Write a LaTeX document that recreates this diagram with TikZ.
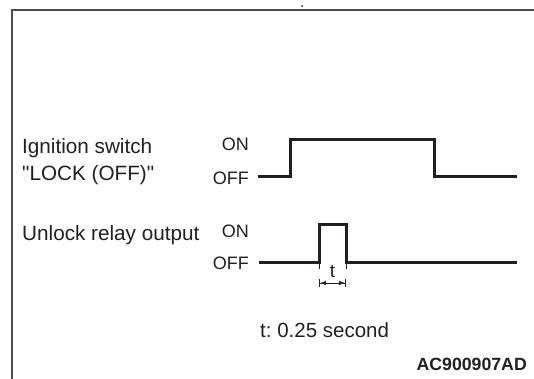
\documentclass[tikz,border=0pt]{standalone}
\usepackage{fontspec}
\setmainfont{Liberation Sans}[Ligatures=TeXOff]
\usetikzlibrary{arrows.meta}
\definecolor{ink}{HTML}{231F20}
\definecolor{rim}{HTML}{4D4D4D}
\frenchspacing

\begin{document}
\begin{tikzpicture}[
  x=1pt, y=-1pt, ink,
  sig/.style={anchor=base west, inner sep=0pt,
              font=\fontsize{20.7}{24}\selectfont},
  lvl/.style={anchor=base east, inner sep=0pt,
              font=\fontsize{18}{21}\selectfont},
  wave/.style={draw=ink, line width=3pt, line join=miter},
  ext/.style={draw=ink, line width=0.7pt},
  dimen/.style={{Bar[width=8pt]Latex[length=6pt,width=4.5pt]}-{Latex[length=6pt,width=4.5pt]Bar[width=8pt]},
                draw=ink, line width=0.9pt},
]
\useasboundingbox (0,0) rectangle (534,379);

% ---- frame -------------------------------------------------------------------
\draw[rim, line width=1.5pt] (12,379) -- (12,10) -- (534,10);
\fill (302,6) circle (1);

% ---- signal names ------------------------------------------------------------
\node[sig] (ign) at (22,154) {Ignition switch};
\node[sig] (lock) at (22,181) {"LOCK (OFF)"};
\node[sig] (relay) at (22,240) {Unlock relay output};

% ---- levels ------------------------------------------------------------------
\node[lvl] (on1) at (249,151) {ON};
\node[lvl] (off1) at (249,185) {OFF};
\node[lvl] (on2) at (249,237) {ON};
\node[lvl] (off2) at (249,269) {OFF};

% ---- ignition switch ---------------------------------------------------------
\draw[wave] (258,177) -- (290,177) -- (290,140) -- (434,140)
  -- (434,177) -- (517,177);

% ---- unlock relay pulse ------------------------------------------------------
\coordinate (up) at (319,262);
\coordinate (dn) at (346,262);
\draw[wave] (259,262) -- (up) -- (319,224) -- (346,224) -- (dn) -- (517,262);
\draw[ext] (up) -- ++(0,7);
\draw[ext] (dn) -- ++(0,7);
\coordinate (t0) at (319,283);
\coordinate (t1) at (346,283);
\draw[dimen] (t0) -- (t1);
\node[lvl, anchor=center, font=\fontsize{19}{21}\selectfont] (tlab) at (332.5,271) {t};

% ---- notes -------------------------------------------------------------------
\node[sig, font=\fontsize{20.5}{24}\selectfont] (note) at (260,337) {t: 0.25 second};
\node[anchor=base east, inner sep=0pt, font=\fontsize{17.7}{20}\selectfont\bfseries]
  (code) at (527,370) {AC900907AD};

\end{tikzpicture}
\end{document}
